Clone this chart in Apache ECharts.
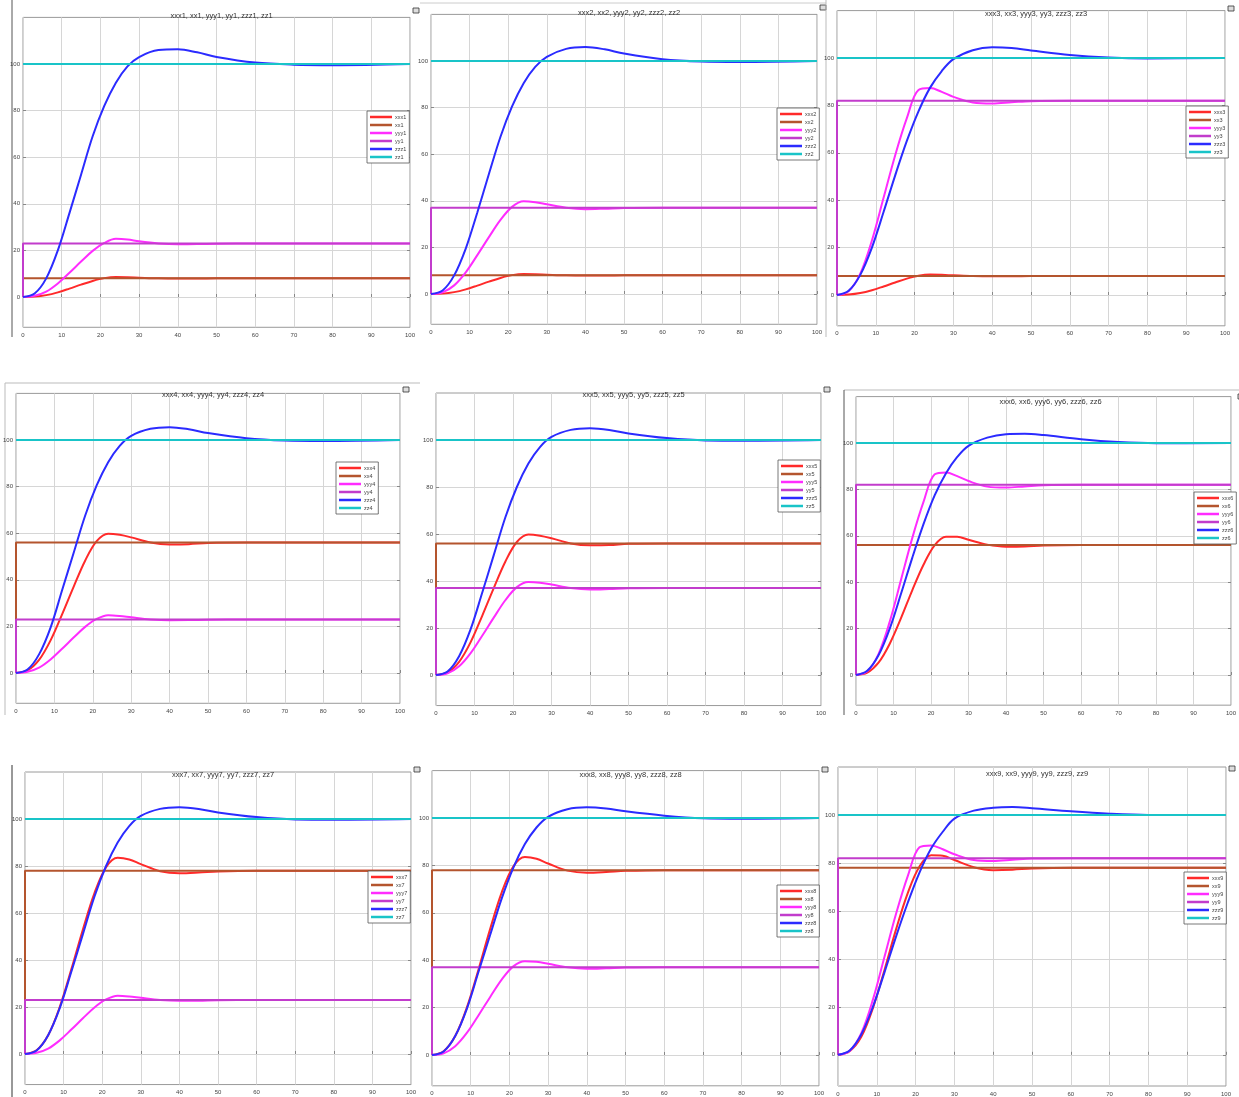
<!DOCTYPE html>
<html><head><meta charset="utf-8">
<script src="https://cdn.jsdelivr.net/npm/echarts@6/dist/echarts.min.js"></script>
<style>html,body{margin:0;padding:0;background:#fff}#c{width:1239px;height:1097px}</style>
</head><body><div id="c"></div><script>
// ---------- DATA ----------
const T = [0,3,6,9,12,15,18,21,24,27,30,35,40,45,50,60,70,80,100];
const xTicks = [0,10,20,30,40,50,60,70,80,90,100];
const yTicks = [0,20,40,60,80,100];
const panelIds = ['1','2','3','4','5','6','7','8','9'];
const xxLevel = [8,8,8,56,56,56,78,78,78];
const yyLevel = [23,37,82,23,37,82,23,37,82];
const zzLevel = [100,100,100,100,100,100,100,100,100];

const xxx1 = [0,0.16,0.8,2,3.6,5.3,6.9,8.1,8.6,8.5,8.3,8,7.9,7.9,8,8,8,8,8];
const xxx2 = [0,0.16,0.8,2,3.6,5.3,6.9,8.1,8.6,8.5,8.3,8,7.9,7.9,8,8,8,8,8];
const xxx3 = [0,0.16,0.8,2,3.6,5.3,6.9,8.1,8.6,8.5,8.3,8,7.9,7.9,8,8,8,8,8];
const xxx4 = [0,1.1,5.6,14,25.2,37,48.2,56.6,59.8,59.3,58.2,56,55.2,55.3,55.8,56,56,56,56];
const xxx5 = [0,1.1,5.6,14,25.2,37,48.2,56.6,59.8,59.3,58.2,56,55.2,55.3,55.8,56,56,56,56];
const xxx6 = [0,1,5.3,13.5,24.5,36.5,47.5,56,59.6,59.6,58.3,56.2,55.3,55.4,55.8,56,56,56,56];
const xxx7 = [0,1.6,8,20,36,53,68.5,79.5,83.5,82.8,80.8,77.8,76.9,77.2,77.7,78,78,78,78];
const xxx8 = [0,1.6,8,20,36,53,68.5,79.5,83.5,82.8,80.8,77.8,76.9,77.2,77.7,78,78,78,78];
const xxx9 = [0,1.5,7.5,19.5,35.5,52.5,67.5,78.5,83.2,83,81.2,78.2,77,77.2,77.7,78,78,78,78];

const yyy1 = [0,0.5,2.3,5.8,10.4,15.2,19.8,23.2,25,24.7,23.9,23,22.65,22.7,22.9,23,23,23,23];
const yyy2 = [0,0.7,3.7,9.3,16.7,24.4,31.8,37.4,39.8,39.4,38.5,37,36.4,36.6,36.9,37,37,37,37];
const yyy3 = [0,1.6,9,23,41,59,74.6,86.5,87.3,85.7,83.6,81.2,80.8,81.3,81.8,82,82,82,82];
const yyy4 = [0,0.5,2.3,5.8,10.4,15.2,19.8,23.2,24.8,24.5,23.9,23,22.65,22.7,22.9,23,23,23,23];
const yyy5 = [0,0.7,3.7,9.3,16.7,24.4,31.8,37.4,39.6,39.3,38.5,37,36.4,36.6,36.9,37,37,37,37];
const yyy6 = [0,1.6,9,23,41,59,74.6,86.5,87.3,85.7,83.6,81.2,80.8,81.3,81.8,82,82,82,82];
const yyy7 = [0,0.5,2.3,5.8,10.4,15.2,19.8,23.2,24.8,24.5,23.9,23,22.65,22.7,22.9,23,23,23,23];
const yyy8 = [0,0.7,3.7,9.3,16.7,24.4,31.8,37.4,39.6,39.3,38.5,37,36.4,36.6,36.9,37,37,37,37];
const yyy9 = [0,1.6,9,23,41,59,74.6,86.5,87.3,85.7,83.6,81.2,80.8,81.3,81.8,82,82,82,82];

const zzz1 = [0,1.5,8,20,36,52.5,69,82,92,99,103,106,106.3,105,103,100.6,99.7,99.5,100];
const zzz2 = [0,1.5,8,19.5,35,51.5,67.5,80.5,90.5,97.5,101.8,105.2,106,105,103.2,100.8,99.8,99.6,100];
const zzz3 = [0,1.8,8.5,20,35,50.5,65,77.5,87.5,94.5,99.5,103.3,104.5,104.2,103.2,101.3,100.2,99.8,100];
const zzz4 = [0,1.5,8,19.5,35.5,51.5,67.5,80.5,90.5,97.5,101.8,104.8,105.5,104.6,103,100.8,99.8,99.6,100];
const zzz5 = [0,1.5,8,19.5,35,51,67,80,90,97,101.3,104.3,105,104.3,102.8,100.8,99.8,99.7,100];
const zzz6 = [0,1.8,8.5,20,35,50.5,65,77.5,87,94,98.8,102.3,103.8,104,103.4,101.6,100.4,99.9,100];
const zzz7 = [0,1.5,8,19.5,35,51,67,80,90,97,101.3,104.3,105,104.3,102.8,100.8,99.8,99.7,100];
const zzz8 = [0,1.5,8,19.5,35,50.5,66,79,89,96,100.5,103.7,104.5,104,102.8,101,99.9,99.7,100];
const zzz9 = [0,1.8,8.5,20,34.5,49.5,63.5,76,86,93,98.5,101.8,103,103.3,102.8,101.5,100.5,100,100];

const xxxAll = [xxx1,xxx2,xxx3,xxx4,xxx5,xxx6,xxx7,xxx8,xxx9];
const yyyAll = [yyy1,yyy2,yyy3,yyy4,yyy5,yyy6,yyy7,yyy8,yyy9];
const zzzAll = [zzz1,zzz2,zzz3,zzz4,zzz5,zzz6,zzz7,zzz8,zzz9];

// ---------- LAYOUT (pixel positions of each panel) ----------
// x0/x100: pixel of x=0 / x=100 ; y0/y100: pixel of y=0 / y=100
const layout = [
  {x0:23,  x100:410,  y0:297,  y100:64,  tY:7,   leg:[367,111]},
  {x0:431, x100:817,  y0:294,  y100:61,  tY:4,   leg:[777,108]},
  {x0:837, x100:1225, y0:295,  y100:58,  tY:5,   leg:[1186,106]},
  {x0:16,  x100:400,  y0:673,  y100:440, tY:386, leg:[336,462]},
  {x0:436, x100:821,  y0:675,  y100:440, tY:386, leg:[778,460]},
  {x0:856, x100:1235, y0:675,  y100:443, tY:393, leg:[1194,492]},
  {x0:25,  x100:411,  y0:1054, y100:819, tY:766, leg:[368,871]},
  {x0:432, x100:819,  y0:1055, y100:818, tY:766, leg:[777,885]},
  {x0:838, x100:1226, y0:1055, y100:815, tY:765, leg:[1184,872]}
];
const YMIN = -13, YMAX = 120;
const C = {xxx:'#ff2a2a', xx:'#b4552e', yyy:'#ff2cff', yy:'#c23ccc', zzz:'#2b2bff', zz:'#19c4c8'};

const grids=[], xAxes=[], yAxes=[], series=[], titles=[], legends=[], graphics=[];
layout.forEach((p,i)=>{
  const s = (p.y0 - p.y100)/100;
  const top = p.y100 - (YMAX-100)*s;
  const h = (YMAX-YMIN)*s;
  grids.push({left:p.x0, top:top, width:p.x100-p.x0, height:h, show:true,
    borderColor:'#9a9a9a', borderWidth:1, backgroundColor:'#fff'});
  xAxes.push({gridIndex:i, type:'value', min:0, max:100, interval:10,
    axisLine:{show:false},
    axisTick:{show:true, inside:true, length:3, lineStyle:{color:'#888'}},
    axisLabel:{fontSize:6, color:'#444', margin:5, fontFamily:'Liberation Sans'},
    splitLine:{show:true, lineStyle:{color:'#d6d6d6', width:1}}});
  yAxes.push({gridIndex:i, type:'value', min:YMIN, max:YMAX, position:'left',
    axisLine:{show:false},
    axisTick:{show:true, inside:true, length:3, customValues:yTicks, lineStyle:{color:'#888'}},
    axisLabel:{fontSize:6, color:'#444', margin:3, customValues:yTicks, fontFamily:'Liberation Sans'},
    splitLine:{show:true, lineStyle:{color:'#d6d6d6', width:1}}});
  yAxes.push({gridIndex:i, type:'value', min:YMIN, max:YMAX, position:'right',
    axisLine:{show:false},
    axisTick:{show:true, inside:true, length:3, customValues:yTicks, lineStyle:{color:'#888'}},
    axisLabel:{show:false}, splitLine:{show:false}});
  const id = panelIds[i];
  const names = ['xxx'+id,'xx'+id,'yyy'+id,'yy'+id,'zzz'+id,'zz'+id];
  titles.push({text: names.join(', '), left:(p.x0+p.x100)/2, top:p.tY, textAlign:'center',
    textStyle:{fontSize:7.5, fontWeight:'normal', color:'#333', fontFamily:'Liberation Sans'}});
  legends.push({data: names.map(n=>({name:n, icon:'rect'})), orient:'vertical', left:p.leg[0], top:p.leg[1],
    selectedMode:false, backgroundColor:'#fff', borderColor:'#555', borderWidth:0.8, borderRadius:0,
    padding:[2,3,2,3], itemWidth:22, itemHeight:2.5, itemGap:0,
    textStyle:{fontSize:5.5, color:'#444', lineHeight:8, padding:[0,0,0,-2], fontFamily:'Liberation Sans'}});
  const resp = (arr)=> T.map((t,k)=>[t, arr[k]]);
  const step = (v)=> [[0,0],[0,v],[100,v]];
  const mk = (name, data, color, smooth)=>({name, type:'line', xAxisIndex:i, yAxisIndex:2*i,
    data, showSymbol:false, smooth:smooth?0.35:false, lineStyle:{color, width:2}, itemStyle:{color},
    silent:true, animation:false, clip:true});
  series.push(mk(names[0], resp(xxxAll[i]), C.xxx, true));
  series.push(mk(names[1], step(xxLevel[i]), C.xx, false));
  series.push(mk(names[2], resp(yyyAll[i]), C.yyy, true));
  series.push(mk(names[3], step(yyLevel[i]), C.yy, false));
  series.push(mk(names[4], resp(zzzAll[i]), C.zzz, true));
  series.push(mk(names[5], [[0,zzLevel[i]],[100,zzLevel[i]]], C.zz, false));
  // tiny window icon at top-right of each panel
  graphics.push({type:'rect', shape:{x:p.x100+3, y:p.tY+1, width:6, height:5},
    style:{fill:'#ddd', stroke:'#333', lineWidth:0.8}, silent:true});
});
// screenshot frame edges
graphics.push({type:'line', shape:{x1:12,y1:0,x2:12,y2:337}, style:{stroke:'#555', lineWidth:1}});
graphics.push({type:'line', shape:{x1:420,y1:3,x2:826,y2:3}, style:{stroke:'#ccc', lineWidth:1}});
graphics.push({type:'line', shape:{x1:826,y1:0,x2:826,y2:337}, style:{stroke:'#bbb', lineWidth:1}});
graphics.push({type:'line', shape:{x1:5,y1:383,x2:420,y2:383}, style:{stroke:'#bbb', lineWidth:1}});
graphics.push({type:'line', shape:{x1:5,y1:383,x2:5,y2:715}, style:{stroke:'#bbb', lineWidth:1}});
graphics.push({type:'line', shape:{x1:844,y1:390,x2:1239,y2:390}, style:{stroke:'#bbb', lineWidth:1}});
graphics.push({type:'line', shape:{x1:844,y1:390,x2:844,y2:715}, style:{stroke:'#555', lineWidth:1}});
graphics.push({type:'line', shape:{x1:12,y1:765,x2:12,y2:1097}, style:{stroke:'#333', lineWidth:1}});

const chart = echarts.init(document.getElementById('c'), null, {renderer:'canvas'});
chart.setOption({animation:false, backgroundColor:'#fff', title:titles, legend:legends,
  grid:grids, xAxis:xAxes, yAxis:yAxes, series:series, graphic:graphics});
</script></body></html>
